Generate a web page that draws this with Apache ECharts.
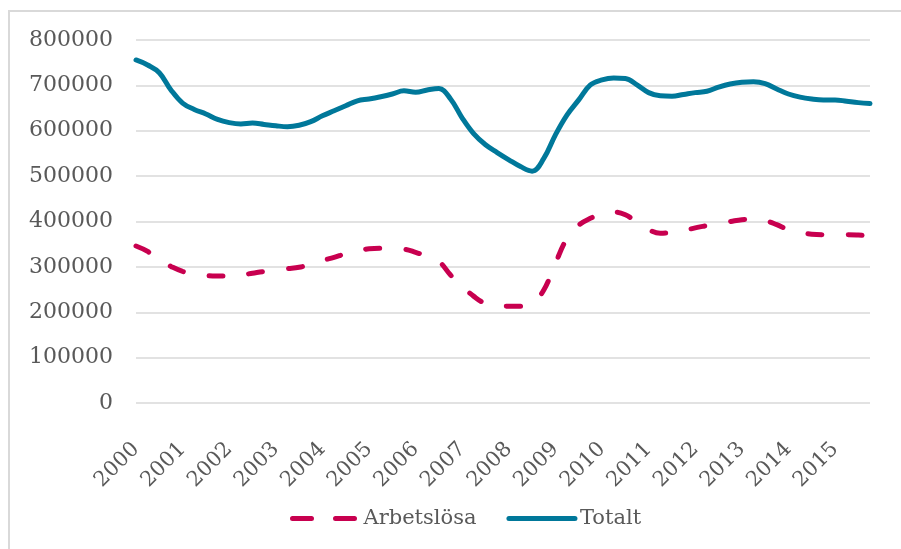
<!DOCTYPE html>
<html>
<head>
<meta charset="utf-8">
<script src="https://cdn.jsdelivr.net/npm/echarts@6/dist/echarts.min.js"></script>
<style>
  html, body { margin: 0; padding: 0; background: #fff; }
  #chart { width: 901px; height: 549px; }
</style>
</head>
<body>
<div id="chart"></div>
<script>
  // år, kvartalsvis data (4 punkter per år)
  var years = ['2000','2001','2002','2003','2004','2005','2006','2007',
               '2008','2009','2010','2011','2012','2013','2014','2015'];
  var quarters = ['K1','K2','K3','K4'];
  var yTicks = [0, 100000, 200000, 300000, 400000, 500000, 600000, 700000, 800000];

  // Arbetslösa (tusental)
  var arbetslosa = [
    346, 334, 315, 301,  290, 285, 281, 280,  280, 282, 286, 290,
    293, 296, 299, 306,  314, 321, 329, 335,  340, 341, 340, 339,
    332, 323, 312, 282,  257, 235, 219, 214,  213, 213, 219, 249,
    308, 363, 392, 407,  417, 421, 415, 398,  382, 374, 376, 380,
    386, 391, 396, 400,  404, 405, 402, 393,  382, 376, 372, 371,
    371, 371, 370, 368
  ];
  // Totalt (tusental)
  var totalt = [
    756, 745, 728, 690,  661, 647, 637, 625,  618, 615, 617, 614,
    611, 609, 612, 620,  633, 644, 655, 666,  670, 675, 681, 688,
    685, 690, 693, 670,  628, 593, 569, 552,  536, 521, 511, 539,
    591, 635, 668, 701,  712, 716, 715, 701,  684, 677, 676, 680,
    684, 687, 696, 703,  707, 708, 704, 692,  681, 674, 670, 668,
    668, 665, 662, 660
  ];

  var categories = [];
  years.forEach(function (y) {
    quarters.forEach(function (q) { categories.push(y + ' ' + q) })
  });

  var textColor = '#595959';
  var font = 'DejaVu Serif';

  var myChart = echarts.init(document.getElementById('chart'));
  myChart.setOption({
    animation: false,
    textStyle: { fontFamily: font },
    graphic: [
      {
        type: 'rect',
        shape: { x: 9, y: 11, width: 1000, height: 1000 },
        style: { fill: 'none', stroke: '#d9d9d9', lineWidth: 2 },
        silent: true
      }
    ],
    grid: { left: 136, right: 31, top: 40, bottom: 146, containLabel: false },
    legend: {
      left: 285,
      top: 503,
      itemWidth: 66,
      itemHeight: 14,
      itemGap: 30,
      itemTextGap: 10,
      itemStyle: { opacity: 0 },
      lineStyle: { width: 5, cap: 'round' },
      textStyle: { color: textColor, fontSize: 21, fontFamily: font },
      data: [
        { name: 'Arbetslösa', lineStyle: { type: [19, 24], width: 5, cap: 'round' } },
        'Totalt'
      ]
    },
    xAxis: {
      type: 'category',
      boundaryGap: false,
      data: categories,
      axisLine: { show: false },
      axisTick: { show: false },
      axisLabel: {
        color: textColor,
        fontSize: 21,
        fontFamily: font,
        rotate: 45,
        margin: 43,
        interval: function (idx) { return idx % 4 === 0 },
        formatter: function (v) { return v.slice(0, 4) }
      }
    },
    yAxis: {
      type: 'value',
      min: yTicks[0],
      max: yTicks[yTicks.length - 1],
      interval: yTicks[1] - yTicks[0],
      axisLine: { show: false },
      axisTick: { show: false },
      axisLabel: {
        color: textColor, fontSize: 22, fontFamily: font, margin: 23,
        formatter: function (v) { return String(v) }
      },
      splitLine: { lineStyle: { color: '#d9d9d9', width: 1.5 } }
    },
    series: [
      {
        name: 'Arbetslösa',
        type: 'line',
        smooth: 0.4,
        symbol: 'none',
        data: arbetslosa.map(function (v) { return v * 1000 }),
        itemStyle: { color: '#c8004f' },
        lineStyle: { color: '#c8004f', width: 5, type: [14, 26], cap: 'round' }
      },
      {
        name: 'Totalt',
        type: 'line',
        smooth: 0.4,
        symbol: 'none',
        data: totalt.map(function (v) { return v * 1000 }),
        itemStyle: { color: '#00789a' },
        lineStyle: { color: '#00789a', width: 5, cap: 'round' }
      }
    ]
  });
</script>
</body>
</html>
